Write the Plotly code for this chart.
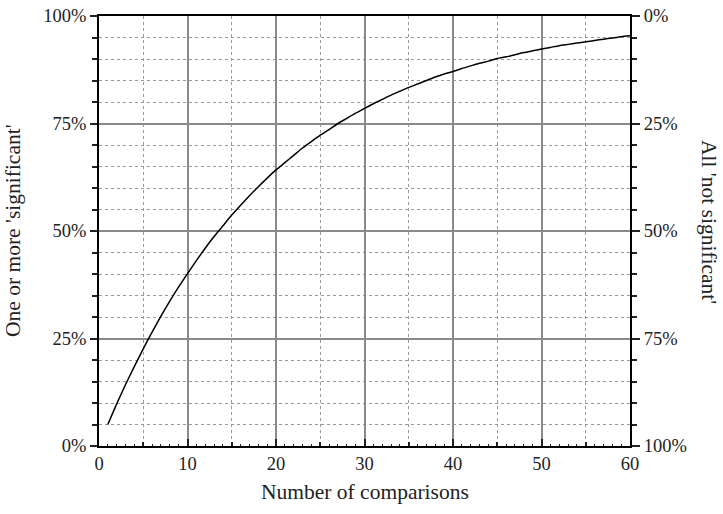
import plotly.graph_objects as go

comparisons = list(range(1, 61))
pct_one_or_more = [5.0, 9.8, 14.3, 18.5, 22.6, 26.5, 30.2, 33.7, 37.0, 40.1,
                   43.1, 46.0, 48.7, 51.2, 53.7, 56.0, 58.2, 60.3, 62.3, 64.2,
                   65.9, 67.6, 69.3, 70.8, 72.3, 73.6, 75.0, 76.2, 77.4, 78.5,
                   79.6, 80.6, 81.6, 82.5, 83.4, 84.2, 85.0, 85.8, 86.5, 87.1,
                   87.8, 88.4, 89.0, 89.5, 90.1, 90.5, 91.0, 91.5, 91.9, 92.3,
                   92.7, 93.1, 93.4, 93.7, 94.0, 94.3, 94.6, 94.9, 95.2, 95.4]
left_ticks = [0, 25, 50, 75, 100]
left_labels = ["0%", "25%", "50%", "75%", "100%"]
right_labels = ["0%", "25%", "50%", "75%", "100%"]
x_ticks = [0, 10, 20, 30, 40, 50, 60]

FONT = "Liberation Serif"
GRID = "#8a8a8a"
MINOR = "#9a9a9a"
TICK = "#222222"

fig = go.Figure()
fig.add_trace(go.Scatter(x=comparisons, y=pct_one_or_more, mode="lines",
                         line=dict(color="black", width=1.5, shape="spline", smoothing=0.6),
                         showlegend=False, hoverinfo="skip"))
fig.add_trace(go.Scatter(x=[0], y=[0], yaxis="y2", mode="markers",
                         marker=dict(opacity=0), showlegend=False, hoverinfo="skip"))
fig.add_trace(go.Scatter(x=[0], y=[0], xaxis="x2", mode="markers",
                         marker=dict(opacity=0), showlegend=False, hoverinfo="skip"))

tickfont = dict(family=FONT, size=18.5, color="#222")
titlefont = dict(family=FONT, size=21.5, color="#222")

W = 531.0
H = 430.0
fig.update_layout(
    width=723, height=514,
    margin=dict(l=99, r=93, t=16, b=68, autoexpand=False),
    paper_bgcolor="white", plot_bgcolor="white",
    font=dict(family=FONT, size=18, color="#222"),
    xaxis=dict(range=[0, 60], tickvals=x_ticks, ticktext=[str(v) for v in x_ticks],
               ticks="inside", ticklen=7, tickwidth=1.5, tickcolor=TICK,
               showgrid=True, gridcolor=GRID, gridwidth=1.5,
               minor=dict(dtick=5, tick0=0, ticks="inside", ticklen=4, tickwidth=1.5,
                          tickcolor=TICK, showgrid=True, gridcolor=MINOR,
                          griddash="dot", gridwidth=1),
               showline=True, linecolor="black", linewidth=2, mirror=True,
               zeroline=False, tickfont=tickfont, automargin=False),
    xaxis2=dict(range=[0, 60], overlaying="x", anchor="y", side="bottom",
                dtick=1, tick0=0, ticks="inside", ticklen=2.5, tickwidth=1,
                tickcolor=TICK, showticklabels=False, showgrid=False,
                showline=False, zeroline=False, automargin=False),
    yaxis=dict(range=[0, 100], tickvals=left_ticks, ticktext=left_labels,
               ticks="outside", ticklen=7, tickwidth=1.5, tickcolor=TICK,
               showgrid=True, gridcolor=GRID, gridwidth=1.5,
               minor=dict(dtick=5, tick0=0, ticks="outside", ticklen=5, tickwidth=1.5,
                          tickcolor=TICK, showgrid=True, gridcolor=MINOR,
                          griddash="dot", gridwidth=1),
               showline=True, linecolor="black", linewidth=2,
               zeroline=False, tickfont=tickfont, automargin=False),
    yaxis2=dict(range=[100, 0], overlaying="y", side="right", anchor="x",
                tickvals=left_ticks, ticktext=right_labels,
                ticks="outside", ticklen=8, tickwidth=1.5, tickcolor=TICK,
                minor=dict(dtick=5, tick0=0, ticks="outside", ticklen=5, tickwidth=1.5,
                           tickcolor=TICK, showgrid=False),
                showgrid=False, showline=True, linecolor="black", linewidth=2,
                zeroline=False, tickfont=tickfont, automargin=False),
    annotations=[
        dict(text="One or more 'significant'", xref="paper", yref="paper",
             x=(13 - 99) / W, y=0.5, textangle=-90, showarrow=False,
             font=titlefont, xanchor="center", yanchor="middle"),
        dict(text="All 'not significant'", xref="paper", yref="paper",
             x=1 + (709 - 630) / W, y=(446 - 222) / H, textangle=90, showarrow=False,
             font=titlefont, xanchor="center", yanchor="middle"),
        dict(text="Number of comparisons", xref="paper", yref="paper",
             x=0.5, y=-(492 - 446) / H, showarrow=False,
             font=titlefont, xanchor="center", yanchor="middle"),
    ],
)

fig.write_html("out.html", config={"displayModeBar": False},
               post_script="document.body.style.margin='0';")
